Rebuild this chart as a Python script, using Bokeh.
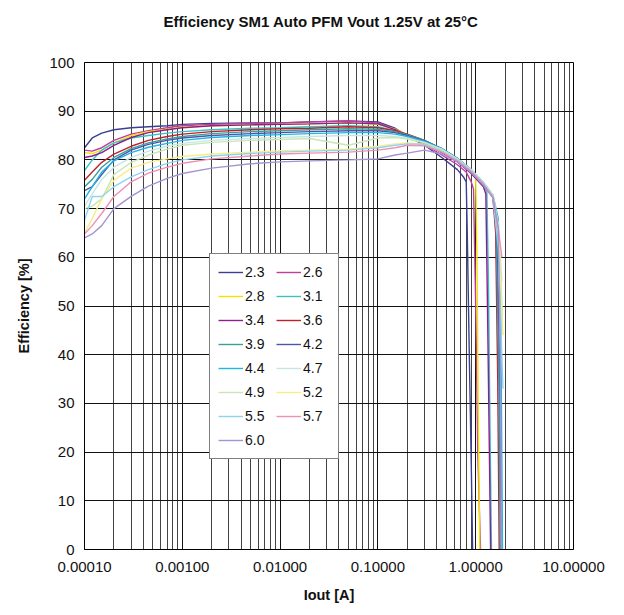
from bokeh.plotting import figure
from bokeh.models import (Range1d, FixedTicker, PrintfTickFormatter, Legend,
                          LegendItem, Title)
from bokeh.embed import file_html
from bokeh.resources import INLINE

# Input voltages (legend labels) and colours
VIN_LABELS = ["2.3", "2.6", "2.8", "3.1", "3.4", "3.6", "3.9", "4.2",
              "4.4", "4.7", "4.9", "5.2", "5.5", "5.7", "6.0"]
COLORS = ["#3b3f92", "#c23c9c", "#f2e200", "#38c2c4", "#8e1f8f", "#c0202e",
          "#3aa19a", "#4d57aa", "#22b4e6", "#c6e6e4", "#c9e6b4", "#f6ee86",
          "#8fd3f2", "#f08fb2", "#a394d2"]

# Load currents shared by every curve up to the roll-off [A]
IOUT_COMMON = [0.0001, 0.00012, 0.00015, 0.0002, 0.0003, 0.00045, 0.0007,
               0.001, 0.002, 0.005, 0.01, 0.02, 0.05, 0.1, 0.15, 0.2, 0.3,
               0.45, 0.65]

# Efficiency [%] at IOUT_COMMON
EFF_2V3 = [82.5, 84.5, 85.5, 86.2, 86.6, 86.8, 87.0, 87.3, 87.5, 87.6, 87.6, 87.8, 88.0, 87.8, 86.5, 85.0, 83.0, 80.5, 78.0]
EFF_2V6 = [82.0, 81.8, 82.5, 84.0, 85.3, 86.0, 86.6, 87.0, 87.3, 87.5, 87.6, 87.8, 88.0, 87.6, 86.3, 85.0, 83.2, 81.0, 79.0]
EFF_2V8 = [81.5, 81.3, 82.0, 83.5, 85.0, 85.8, 86.3, 86.7, 87.0, 87.2, 87.3, 87.4, 87.6, 87.3, 86.3, 85.2, 83.6, 81.8, 79.8]
EFF_3V1 = [77.8, 80.0, 82.0, 83.5, 84.5, 85.0, 85.5, 85.8, 86.2, 86.5, 86.6, 86.8, 87.0, 86.8, 86.0, 85.2, 83.8, 82.0, 80.0]
EFF_3V4 = [80.5, 80.8, 81.5, 83.0, 84.6, 85.6, 86.2, 86.6, 87.0, 87.2, 87.3, 87.4, 87.6, 87.4, 86.2, 85.0, 83.4, 81.5, 79.6]
EFF_3V6 = [75.8, 77.5, 79.5, 81.2, 82.8, 84.0, 84.8, 85.3, 85.8, 86.2, 86.4, 86.5, 86.8, 86.6, 86.0, 85.3, 84.0, 82.2, 80.2]
EFF_3V9 = [74.5, 76.0, 78.5, 80.5, 82.3, 83.5, 84.3, 84.8, 85.4, 85.8, 86.0, 86.2, 86.4, 86.3, 85.8, 85.2, 84.0, 82.3, 80.3]
EFF_4V2 = [73.7, 74.5, 77.0, 80.0, 82.0, 83.2, 84.0, 84.5, 85.0, 85.4, 85.6, 85.8, 86.0, 86.0, 85.6, 85.0, 83.9, 82.3, 80.3]
EFF_4V4 = [72.0, 74.5, 77.5, 79.8, 81.5, 82.6, 83.4, 84.0, 84.6, 85.0, 85.2, 85.4, 85.6, 85.6, 85.3, 84.8, 83.8, 82.3, 80.3]
EFF_4V7 = [70.5, 73.0, 76.0, 78.5, 80.5, 81.8, 82.8, 83.4, 84.0, 84.4, 84.6, 84.8, 85.0, 85.0, 84.8, 84.5, 83.6, 82.2, 80.2]
EFF_4V9 = [70.0, 70.5, 72.0, 77.0, 79.5, 81.0, 82.2, 83.0, 83.6, 84.0, 84.2, 84.4, 83.0, 84.5, 84.6, 84.3, 83.5, 82.0, 80.1]
EFF_5V2 = [65.0, 68.0, 72.0, 75.8, 78.3, 79.5, 80.2, 80.7, 81.2, 81.6, 81.9, 82.0, 82.2, 82.8, 83.3, 83.5, 83.2, 81.8, 80.0]
EFF_5V5 = [67.6, 72.5, 72.5, 74.5, 76.5, 78.0, 79.3, 80.0, 80.8, 81.3, 81.6, 81.8, 82.0, 82.5, 83.0, 83.3, 83.2, 81.8, 80.0]
EFF_5V7 = [64.8, 66.5, 69.0, 72.5, 75.5, 77.3, 78.5, 79.3, 80.2, 80.8, 81.2, 81.4, 81.6, 82.0, 82.5, 83.0, 82.9, 81.6, 79.8]
EFF_6V0 = [64.0, 64.8, 66.5, 70.0, 72.5, 74.6, 76.2, 77.2, 78.3, 79.2, 79.6, 79.8, 80.0, 80.2, 81.0, 81.4, 82.0, 81.2, 79.6]

# Heavy-load tails: current [A] and efficiency [%] past 0.65 A
TAIL_I_2V3 = [0.75, 0.8, 0.82, 0.86, 0.9, 0.93]
TAIL_E_2V3 = [76.5, 75.5, 65.0, 40.0, 18.0, 0.0]
TAIL_I_2V6 = [0.8, 0.9, 0.95, 1.0, 1.05, 1.12]
TAIL_E_2V6 = [77.5, 75.5, 74.0, 50.0, 20.0, 0.0]
TAIL_I_2V8 = [0.9, 1.0, 1.03, 1.06, 1.1]
TAIL_E_2V8 = [77.3, 76.3, 60.0, 30.0, 0.0]
TAIL_I_3V1 = [0.9, 1.2, 1.3, 1.35, 1.4, 1.45]
TAIL_E_3V1 = [77.6, 74.8, 73.5, 55.0, 25.0, 0.0]
TAIL_I_3V4 = [0.9, 1.2, 1.27, 1.32, 1.38, 1.42]
TAIL_E_3V4 = [77.2, 74.5, 73.0, 50.0, 20.0, 0.0]
TAIL_I_3V6 = [0.9, 1.2, 1.5, 1.6, 1.68, 1.74]
TAIL_E_3V6 = [77.8, 75.2, 72.3, 65.0, 35.0, 0.0]
TAIL_I_3V9 = [0.9, 1.2, 1.5, 1.62, 1.72, 1.78]
TAIL_E_3V9 = [78.0, 75.3, 72.5, 66.0, 35.0, 0.0]
TAIL_I_4V2 = [0.9, 1.2, 1.5, 1.65, 1.75, 1.84]
TAIL_E_4V2 = [78.0, 75.3, 72.6, 67.0, 40.0, 0.0]
TAIL_I_4V4 = [0.9, 1.2, 1.5, 1.7, 1.8, 1.88]
TAIL_E_4V4 = [78.0, 75.4, 72.8, 68.0, 50.0, 0.0]
TAIL_I_4V7 = [0.9, 1.2, 1.5, 1.7, 1.85]
TAIL_E_4V7 = [78.0, 75.4, 72.8, 67.0, 55.0]
TAIL_I_4V9 = [0.9, 1.2, 1.5, 1.7, 1.88]
TAIL_E_4V9 = [77.9, 75.3, 72.7, 66.0, 48.0]
TAIL_I_5V2 = [0.9, 1.2, 1.5, 1.7, 1.9]
TAIL_E_5V2 = [77.8, 75.2, 72.6, 65.0, 44.0]
TAIL_I_5V5 = [0.9, 1.2, 1.5, 1.7, 1.9]
TAIL_E_5V5 = [77.8, 75.2, 72.6, 62.0, 33.0]
TAIL_I_5V7 = [0.9, 1.2, 1.5, 1.7, 1.85]
TAIL_E_5V7 = [77.6, 75.0, 72.4, 66.0, 60.0]
TAIL_I_6V0 = [0.9, 1.2, 1.5, 1.7, 1.78, 1.84]
TAIL_E_6V0 = [77.4, 74.8, 72.2, 66.0, 40.0, 0.0]

CURVES = [
    (EFF_2V3, TAIL_I_2V3, TAIL_E_2V3), (EFF_2V6, TAIL_I_2V6, TAIL_E_2V6),
    (EFF_2V8, TAIL_I_2V8, TAIL_E_2V8), (EFF_3V1, TAIL_I_3V1, TAIL_E_3V1),
    (EFF_3V4, TAIL_I_3V4, TAIL_E_3V4), (EFF_3V6, TAIL_I_3V6, TAIL_E_3V6),
    (EFF_3V9, TAIL_I_3V9, TAIL_E_3V9), (EFF_4V2, TAIL_I_4V2, TAIL_E_4V2),
    (EFF_4V4, TAIL_I_4V4, TAIL_E_4V4), (EFF_4V7, TAIL_I_4V7, TAIL_E_4V7),
    (EFF_4V9, TAIL_I_4V9, TAIL_E_4V9), (EFF_5V2, TAIL_I_5V2, TAIL_E_5V2),
    (EFF_5V5, TAIL_I_5V5, TAIL_E_5V5), (EFF_5V7, TAIL_I_5V7, TAIL_E_5V7),
    (EFF_6V0, TAIL_I_6V0, TAIL_E_6V0),
]

TITLE = "Efficiency SM1 Auto PFM Vout 1.25V at 25°C"

# Axis ticks
X_MAJOR = [0.0001, 0.001, 0.01, 0.1, 1.0, 10.0]
X_MINOR = [m * d for d in X_MAJOR[:-1] for m in range(2, 10)]
Y_TICKS = list(range(0, 101, 10))

FONT = "Liberation Sans"

p = figure(width=624, height=615, x_axis_type="log",
           x_range=Range1d(0.0001, 10), y_range=Range1d(0, 100),
           output_backend="svg", toolbar_location=None,
           min_border_left=84, min_border_right=51,
           min_border_top=62, min_border_bottom=66)

p.outline_line_color = "black"
p.outline_line_alpha = 1.0
p.background_fill_color = "white"
p.border_fill_color = "white"

# Blank strip between frame and heading, then the heading itself
spacer = Title(text=" ", text_font=FONT, text_font_size="15px", standoff=4)
heading = Title(text=TITLE, text_font=FONT, text_font_style="bold",
                text_font_size="15px", align="left", offset=79, standoff=20,
                text_color="#111111")
p.add_layout(spacer, "above")
p.add_layout(heading, "above")

p.xaxis.ticker = FixedTicker(ticks=X_MAJOR, minor_ticks=X_MINOR)
p.xaxis.formatter = PrintfTickFormatter(format="%.5f")
p.yaxis.ticker = FixedTicker(ticks=Y_TICKS)

for ax in (p.xaxis, p.yaxis):
    ax.major_tick_out = 0
    ax.major_tick_in = 0
    ax.minor_tick_out = 0
    ax.minor_tick_in = 0
    ax.axis_line_color = "black"
    ax.major_label_text_font = FONT
    ax.major_label_text_font_size = "15px"
    ax.major_label_text_color = "#111111"
    ax.axis_label_text_font = FONT
    ax.axis_label_text_font_style = "bold"
    ax.axis_label_text_font_size = "14.5px"
    ax.axis_label_text_color = "#111111"

p.xaxis.axis_label = "Iout [A]"
p.yaxis.axis_label = "Efficiency [%]"
p.xaxis.major_label_standoff = 12
p.xaxis.axis_label_standoff = 12
p.yaxis.major_label_standoff = 10
p.yaxis.axis_label_standoff = 14

p.xgrid.grid_line_color = "#111111"
p.xgrid.grid_line_alpha = 1.0
p.xgrid.minor_grid_line_color = "#444444"
p.xgrid.minor_grid_line_alpha = 1.0
p.ygrid.grid_line_color = "#111111"
p.ygrid.grid_line_alpha = 1.0

renderers = {}
for label, color, (eff, ti, te) in zip(VIN_LABELS, COLORS, CURVES):
    renderers[label] = p.line(IOUT_COMMON + ti, eff + te,
                              line_color=color, line_width=1.4)

# Legend reads across the rows: odd entries left, even entries right
left_col = VIN_LABELS[0::2]
right_col = VIN_LABELS[1::2]
items = [LegendItem(label=lab, renderers=[renderers[lab]])
         for lab in left_col + right_col]

legend = Legend(items=items, ncols=2, nrows=8, location=(125, 90),
                glyph_width=25, glyph_height=20, label_height=20,
                label_width=27, label_standoff=2, spacing=4, padding=8,
                border_line_color="black", border_line_width=1,
                background_fill_color="white", background_fill_alpha=1.0,
                label_text_font=FONT, label_text_font_size="14px",
                label_text_color="#111111")
p.add_layout(legend)

open("out.html", "w").write(file_html(p, INLINE))
